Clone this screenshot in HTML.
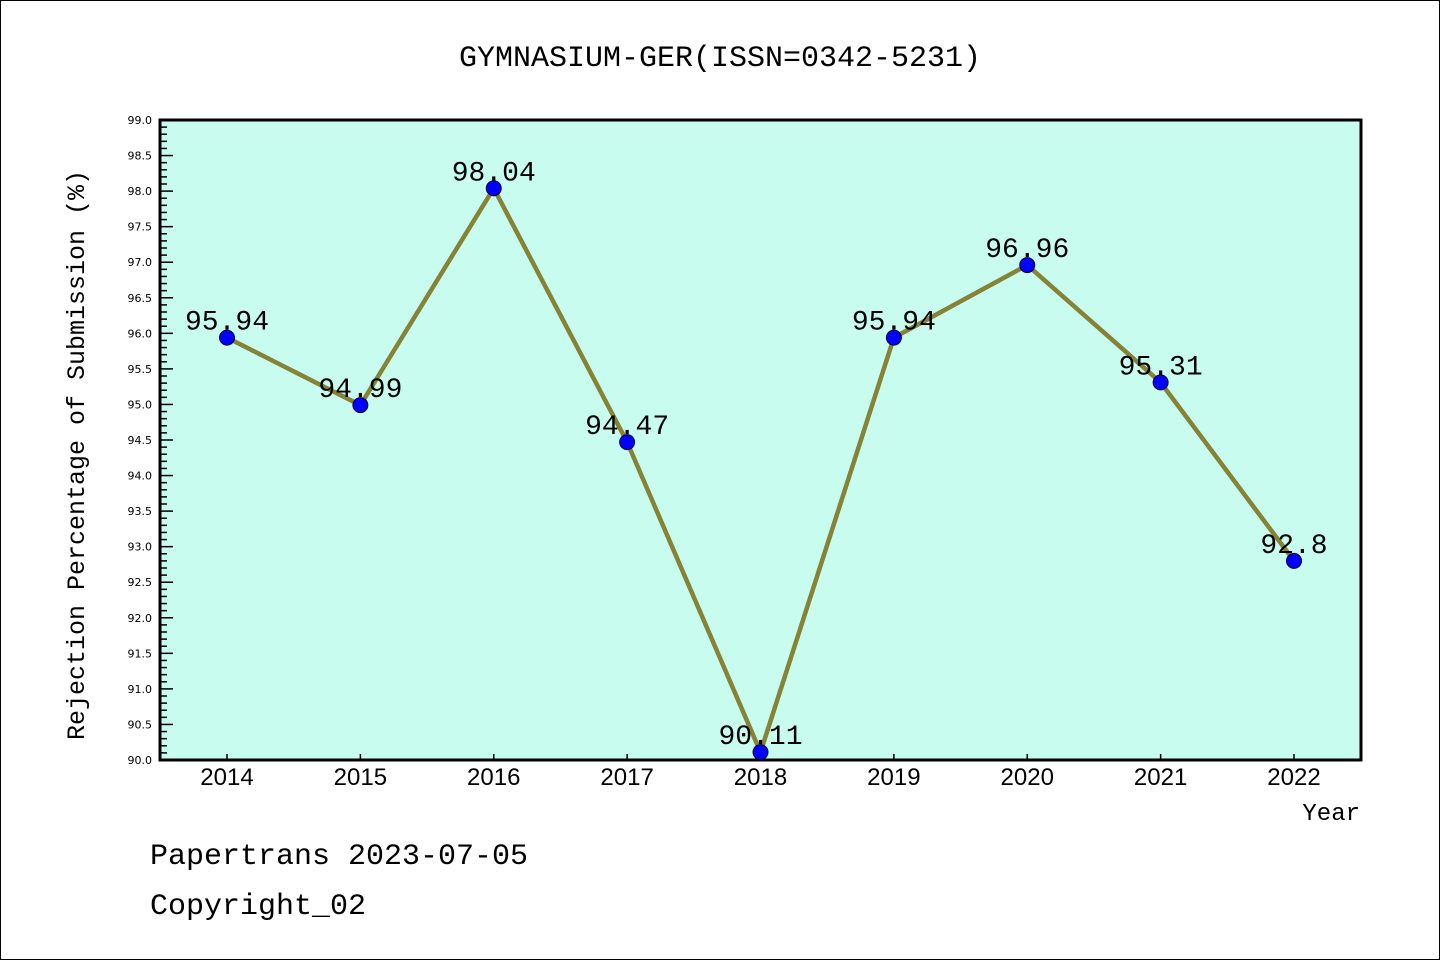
<!DOCTYPE html>
<html><head><meta charset="utf-8"><style>
body{margin:0;background:#fff}
svg text{font-family:"Liberation Mono","DejaVu Sans Mono",monospace}
</style></head><body>
<svg width="1440" height="960" xmlns="http://www.w3.org/2000/svg">
<rect x="0.5" y="0.5" width="1439" height="959" fill="#fff" stroke="#000"/>
<text x="720" y="66" text-anchor="middle" font-size="30">GYMNASIUM-GER(ISSN=0342-5231)</text>
<rect x="160" y="120" width="1201" height="640" fill="#c8fcee" stroke="#000" stroke-width="3"/>
<g id="yaxis"></g>
<g id="xaxis"></g>
<g id="series"></g>
<text transform="translate(84,455) rotate(-90)" text-anchor="middle" font-size="25">Rejection Percentage of Submission (%)</text>
<text x="1360" y="820" text-anchor="end" font-size="24">Year</text>
<text x="150" y="864" font-size="30">Papertrans 2023-07-05</text>
<text x="150" y="914" font-size="30">Copyright_02</text>
</svg>
<script>
const years=["2014","2015","2016","2017","2018","2019","2020","2021","2022"];
const values=[95.94,94.99,98.04,94.47,90.11,95.94,96.96,95.31,92.8];
const valueLabels=["95.94","94.99","98.04","94.47","90.11","95.94","96.96","95.31","92.8"];
const yMin=90,yMax=99;
const NS="http://www.w3.org/2000/svg";
function X(i){return 227+i*(1294-227)/(years.length-1);}
function Y(v){return 760-(v-yMin)/(yMax-yMin)*640;}
function mk(tag,attrs,parent){const e=document.createElementNS(NS,tag);for(const k in attrs)e.setAttribute(k,attrs[k]);parent.appendChild(e);return e;}
const ya=document.getElementById('yaxis');
for(let k=0;k<=90;k++){
  const v=yMin+k*0.1,y=Y(v),major=k%5===0;
  const t=mk('line',{x1:160,x2:major?173:167,y1:y,y2:y,stroke:'#000','stroke-width':1.5},ya);
  
  
  if(major){const l=mk('text',{x:152,y:y+4,'text-anchor':'end',style:'font-family:"DejaVu Sans",sans-serif;font-size:11px'},ya);l.textContent=v.toFixed(1);
    
    }
}
const xa=document.getElementById('xaxis');
years.forEach((yr,i)=>{
  const x=X(i);
  const t=mk('line',{x1:x,x2:x,y1:760,y2:754,stroke:'#000','stroke-width':1.5},xa);
  
  
  const l=mk('text',{x:x,y:785,'text-anchor':'middle',style:'font-family:"Liberation Sans",sans-serif;font-size:24px'},xa);l.textContent=yr;
  
  
});
const s=document.getElementById('series');
const pl=mk('polyline',{points:values.map((v,i)=>X(i)+','+Y(v)).join(' '),fill:'none',stroke:'#868236','stroke-width':4.5},s);


values.forEach((v,i)=>{
  const c=mk('circle',{cx:X(i),cy:Y(v),r:7.5,fill:'#0000ff',stroke:'#000033','stroke-width':1},s);
  
  
  const l=mk('text',{x:X(i),y:Y(v)-8,'text-anchor':'middle','font-size':28},s);l.textContent=valueLabels[i];
  
  
});
</script>
</body></html>
